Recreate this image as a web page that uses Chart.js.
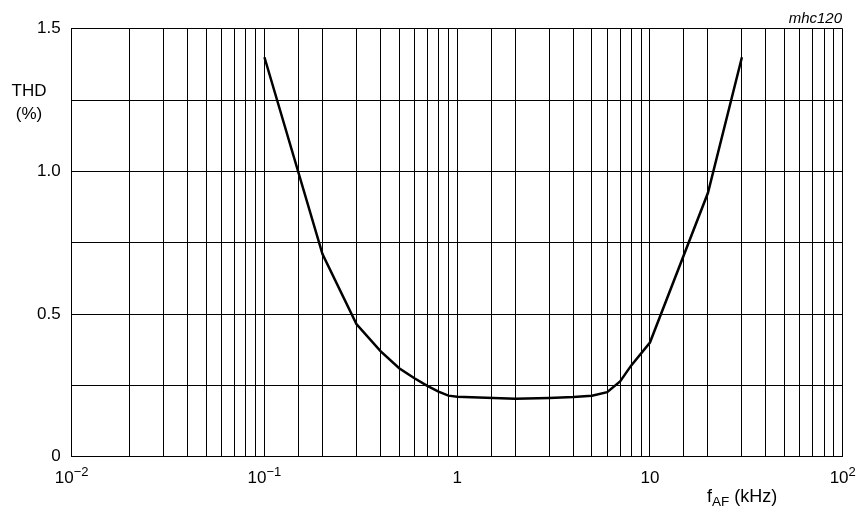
<!DOCTYPE html>
<html>
<head>
<meta charset="utf-8">
<script src="https://cdn.jsdelivr.net/npm/chart.js@4/dist/chart.umd.min.js"></script>
<style>
  body { margin: 0; background: #fff; }
  #wrap { width: 860px; height: 511px; position: relative; }
</style>
</head>
<body>
<div id="wrap"><canvas id="thd"></canvas></div>
<script>
// frequency in kHz, THD in %
const freqs = [0.1, 0.2, 0.3, 0.4, 0.5, 0.6, 0.7, 0.8, 0.9, 1, 2, 3, 4, 5, 6, 7, 8, 10, 20, 30];
const thd = [1.40, 0.71, 0.465, 0.37, 0.31, 0.275, 0.248, 0.228, 0.214, 0.21, 0.203, 0.206, 0.209, 0.214, 0.226, 0.264, 0.32, 0.40, 0.925, 1.40];

// decade tick labels: [value, base, exponent]
const xLabels = [[0.01, '10', '\u22122'], [0.1, '10', '\u22121'], [1, '1', ''], [10, '10', ''], [100, '10', '2']];
const yLabels = {0: '0', 0.5: '0.5', 1: '1.0', 1.5: '1.5'};

const FONT = '"Liberation Sans", Arial, sans-serif';

const labelsPlugin = {
    id: 'labels',
    afterDraw(chart) {
        const c = chart.ctx;
        const xs = chart.scales.x;
        c.save();
        c.fillStyle = '#000';
        c.textBaseline = 'alphabetic';
        // x decade labels with superscripts
        xLabels.forEach(([v, base, exp]) => {
            c.font = '17px ' + FONT;
            const bw = c.measureText(base).width;
            c.font = '13px ' + FONT;
            const ew = exp ? c.measureText(exp).width : 0;
            const x0 = xs.getPixelForValue(v) - (bw + ew) / 2;
            c.font = '17px ' + FONT;
            c.textAlign = 'left';
            c.fillText(base, x0, 483);
            if (exp) {
                c.font = '13px ' + FONT;
                c.fillText(exp, x0 + bw, 476);
            }
        });
        // x axis title f_AF (kHz)
        let x = 707;
        c.font = '18px ' + FONT;
        c.fillText('f', x, 502);
        x += c.measureText('f').width;
        c.font = '13.5px ' + FONT;
        c.fillText('AF', x, 505.5);
        x += c.measureText('AF').width;
        c.font = '18px ' + FONT;
        c.fillText(' (kHz)', x, 502);
        // y axis title
        c.font = '17px ' + FONT;
        c.textAlign = 'center';
        c.fillText('THD', 29, 95.5);
        c.fillText('(%)', 29, 119);
        // figure code
        c.textAlign = 'right';
        c.font = 'italic 15px ' + FONT;
        c.fillText('mhc120', 842, 22.5);
        c.restore();
    }
};

new Chart(document.getElementById('thd'), {
    type: 'line',
    data: {
        datasets: [{
            data: freqs.map((f, i) => ({x: f, y: thd[i]})),
            borderColor: '#000',
            borderWidth: 2.5,
            pointRadius: 0,
            tension: 0,
            fill: false
        }]
    },
    options: {
        responsive: true,
        maintainAspectRatio: false,
        animation: false,
        layout: {padding: {left: 0, right: 17.3, top: 28.7, bottom: 0}},
        plugins: {
            legend: {display: false},
            tooltip: {enabled: false}
        },
        scales: {
            x: {
                type: 'logarithmic',
                min: 0.01,
                max: 100,
                grid: {color: '#000', lineWidth: 1, drawTicks: false},
                border: {color: '#000', width: 1},
                ticks: {autoSkip: false, maxRotation: 0, callback: () => ''},
                afterFit(scale) { scale.height = 54.3; }
            },
            y: {
                min: 0,
                max: 1.5,
                grid: {color: '#000', lineWidth: 1, drawTicks: false},
                border: {color: '#000', width: 1},
                ticks: {
                    stepSize: 0.25,
                    padding: 11,
                    color: '#000',
                    font: {family: FONT, size: 17},
                    callback: (v) => yLabels[v] !== undefined ? yLabels[v] : ''
                },
                afterFit(scale) { scale.width = 71.7; }
            }
        }
    },
    plugins: [labelsPlugin]
});
</script>
</body>
</html>
